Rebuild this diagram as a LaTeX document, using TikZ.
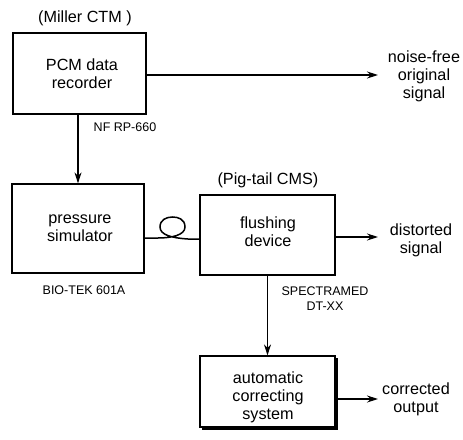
\documentclass[tikz,border=0pt]{standalone}
\usepackage{fontspec}
\setmainfont{Liberation Sans}
\usetikzlibrary{arrows.meta}
\begin{document}
\begin{tikzpicture}[x=1pt,y=-1pt,
  blk/.style={draw,line width=1.2pt,inner sep=0pt},
  lbl/.style={font=\fontsize{16.2}{18}\selectfont,align=center,inner sep=0pt},
  sml/.style={font=\fontsize{12.5}{15}\selectfont,align=center,inner sep=0pt},
  conn/.style={line width=1.5pt},
  arr/.style={line width=1.2pt,-{Stealth[length=11pt,width=7pt]}}]
\useasboundingbox (0,0) rectangle (463,439);
% boxes
\node[blk,minimum width=133pt,minimum height=81pt] (pcm) at (79.5,73.5) {};
\node[lbl] (pcmt) at (82,73.5) {PCM data\\recorder};
\node[blk,minimum width=132pt,minimum height=89pt] (ps) at (78,228.5) {};
\node[lbl] (pst) at (80,228.5) {pressure\\simulator};
\node[blk,minimum width=135pt,minimum height=80pt] (fd) at (267.5,235) {};
\node[lbl] (fdt) at (268,232) {flushing\\device};
\fill (202,358) rectangle (337.5,429.5);
\node[blk,fill=white,minimum width=135pt,minimum height=71pt] (acs) at (267.5,391.5) {};
\node[lbl] (acst) at (268,397) {automatic\\correcting\\system};
% labels
\node[lbl] (miller) at (85,18) {(Miller CTM )};
\node[lbl] (pig) at (268,180) {(Pig-tail CMS)};
\node[sml] (nf) at (125,127) {NF RP-660};
\node[sml] (bio) at (84,290) {BIO-TEK 601A};
\node[sml] (spec) at (325,299) {SPECTRAMED\\DT-XX};
\node[lbl] (nfree) at (424,76) {noise-free\\original\\signal};
\node[lbl] (dist) at (421,240) {distorted\\signal};
\node[lbl] (corr) at (416,399) {corrected\\output};
% connectors
\coordinate (a1) at (378,75);
\coordinate (a2) at (378,237);
\coordinate (a3) at (378,399);
\draw[arr] (pcm.east |- a1) -- (a1);
\draw[arr] (pcm.south -| ps.north) -- (ps.north);
\draw[arr] (fd.east |- a2) -- (a2);
\draw[arr] (fd.south -| acs.north) -- (acs.north);
\draw[arr] (acs.east |- a3) -- (a3);
\draw[conn] (ps.east |- 0,238) -- (158,238) .. controls (172,238) and (185,235) .. (185,227)
  .. controls (185,219) and (178,217) .. (172.5,217)
  .. controls (166,217) and (160,220) .. (160,227)
  .. controls (160,235) and (172,238) .. (188,239) -- (fd.west |- 0,239);
\end{tikzpicture}
\end{document}
